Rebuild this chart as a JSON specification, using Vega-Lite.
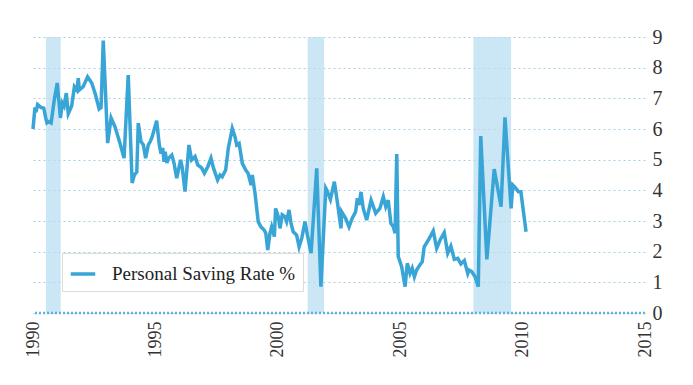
{
  "$schema": "https://vega.github.io/schema/vega-lite/v6.json",
  "width": 612,
  "height": 276,
  "autosize": {"type": "none"},
  "padding": {"left": 33, "top": 37, "right": 48, "bottom": 72},
  "background": "white",
  "config": {"view": {"stroke": null}, "font": "Liberation Serif"},
  "datasets": {
    "recessions": [
      {"start": 1990.53, "end": 1991.13},
      {"start": 2001.22, "end": 2001.89},
      {"start": 2007.99, "end": 2009.53}
    ],
    "saving": [
      {"year": 1990.0, "rate": 6.0},
      {"year": 1990.08, "rate": 6.7},
      {"year": 1990.12, "rate": 6.55},
      {"year": 1990.19, "rate": 6.8},
      {"year": 1990.33, "rate": 6.7},
      {"year": 1990.44, "rate": 6.68},
      {"year": 1990.52, "rate": 6.36},
      {"year": 1990.57, "rate": 6.2},
      {"year": 1990.65, "rate": 6.24},
      {"year": 1990.74, "rate": 6.2},
      {"year": 1990.87, "rate": 6.95},
      {"year": 1990.99, "rate": 7.5},
      {"year": 1991.12, "rate": 6.36},
      {"year": 1991.2, "rate": 6.85},
      {"year": 1991.27, "rate": 6.75},
      {"year": 1991.36, "rate": 7.17},
      {"year": 1991.44, "rate": 6.5},
      {"year": 1991.58, "rate": 6.75},
      {"year": 1991.69, "rate": 7.38},
      {"year": 1991.79, "rate": 7.27},
      {"year": 1991.85, "rate": 7.66},
      {"year": 1991.89, "rate": 7.27},
      {"year": 1992.05, "rate": 7.38},
      {"year": 1992.23, "rate": 7.7},
      {"year": 1992.4, "rate": 7.5},
      {"year": 1992.56, "rate": 7.1},
      {"year": 1992.7, "rate": 6.65},
      {"year": 1992.78, "rate": 6.7},
      {"year": 1992.87, "rate": 8.88},
      {"year": 1993.05, "rate": 5.54},
      {"year": 1993.19, "rate": 6.36},
      {"year": 1993.35, "rate": 6.07},
      {"year": 1993.55, "rate": 5.54},
      {"year": 1993.72, "rate": 5.05},
      {"year": 1993.89, "rate": 7.76},
      {"year": 1994.05, "rate": 4.24},
      {"year": 1994.14, "rate": 4.5},
      {"year": 1994.24, "rate": 4.6},
      {"year": 1994.3, "rate": 6.19},
      {"year": 1994.41, "rate": 5.59},
      {"year": 1994.51, "rate": 5.48},
      {"year": 1994.6, "rate": 5.05},
      {"year": 1994.71, "rate": 5.48},
      {"year": 1994.79, "rate": 5.59},
      {"year": 1994.87, "rate": 5.75},
      {"year": 1995.05, "rate": 6.27},
      {"year": 1995.16, "rate": 5.48},
      {"year": 1995.23, "rate": 5.2},
      {"year": 1995.3, "rate": 5.38},
      {"year": 1995.35, "rate": 4.93},
      {"year": 1995.4, "rate": 5.26},
      {"year": 1995.47, "rate": 4.89},
      {"year": 1995.54, "rate": 5.05},
      {"year": 1995.67, "rate": 5.15},
      {"year": 1995.76, "rate": 4.89},
      {"year": 1995.87, "rate": 4.4},
      {"year": 1996.03, "rate": 4.99},
      {"year": 1996.1, "rate": 4.73},
      {"year": 1996.21, "rate": 3.96},
      {"year": 1996.37, "rate": 5.48},
      {"year": 1996.48, "rate": 4.99},
      {"year": 1996.62, "rate": 5.1},
      {"year": 1996.73, "rate": 4.83},
      {"year": 1996.89, "rate": 4.73},
      {"year": 1997.0, "rate": 4.56},
      {"year": 1997.14, "rate": 4.77},
      {"year": 1997.27, "rate": 5.05},
      {"year": 1997.37, "rate": 4.73},
      {"year": 1997.54, "rate": 4.34},
      {"year": 1997.64, "rate": 4.5},
      {"year": 1997.73, "rate": 4.44},
      {"year": 1997.87, "rate": 4.66},
      {"year": 1997.98, "rate": 5.38},
      {"year": 1998.14, "rate": 6.02},
      {"year": 1998.25, "rate": 5.75},
      {"year": 1998.32, "rate": 5.48},
      {"year": 1998.42, "rate": 5.53},
      {"year": 1998.55, "rate": 4.88},
      {"year": 1998.69, "rate": 4.66},
      {"year": 1998.79, "rate": 4.55},
      {"year": 1998.91, "rate": 4.17},
      {"year": 1998.96, "rate": 4.5},
      {"year": 1999.07, "rate": 3.9},
      {"year": 1999.2, "rate": 2.98},
      {"year": 1999.31, "rate": 2.81},
      {"year": 1999.45, "rate": 2.7},
      {"year": 1999.51, "rate": 2.6},
      {"year": 1999.59, "rate": 2.05},
      {"year": 1999.68, "rate": 2.6},
      {"year": 1999.75, "rate": 2.81},
      {"year": 1999.86, "rate": 2.49},
      {"year": 1999.91, "rate": 3.41},
      {"year": 2000.02, "rate": 3.14},
      {"year": 2000.09, "rate": 2.76},
      {"year": 2000.18, "rate": 3.2},
      {"year": 2000.29, "rate": 3.14},
      {"year": 2000.36, "rate": 2.98},
      {"year": 2000.46, "rate": 3.36},
      {"year": 2000.54, "rate": 2.92},
      {"year": 2000.63, "rate": 2.65},
      {"year": 2000.77, "rate": 2.54},
      {"year": 2000.87, "rate": 2.16},
      {"year": 2000.98, "rate": 2.44},
      {"year": 2001.11, "rate": 2.98},
      {"year": 2001.21, "rate": 2.54},
      {"year": 2001.36, "rate": 1.95},
      {"year": 2001.59, "rate": 4.72},
      {"year": 2001.76, "rate": 0.86},
      {"year": 2001.96, "rate": 4.07},
      {"year": 2002.0, "rate": 4.01},
      {"year": 2002.15, "rate": 3.7},
      {"year": 2002.31, "rate": 4.28},
      {"year": 2002.45, "rate": 3.52},
      {"year": 2002.58, "rate": 2.76},
      {"year": 2002.61, "rate": 3.3},
      {"year": 2002.77, "rate": 3.09},
      {"year": 2002.91, "rate": 2.81},
      {"year": 2003.04, "rate": 3.09},
      {"year": 2003.18, "rate": 3.3},
      {"year": 2003.25, "rate": 3.74},
      {"year": 2003.32, "rate": 3.52},
      {"year": 2003.4, "rate": 3.95},
      {"year": 2003.49, "rate": 3.41},
      {"year": 2003.63, "rate": 3.03},
      {"year": 2003.81, "rate": 3.68},
      {"year": 2004.0, "rate": 3.25},
      {"year": 2004.17, "rate": 3.41},
      {"year": 2004.31, "rate": 3.79},
      {"year": 2004.41, "rate": 3.47},
      {"year": 2004.51, "rate": 3.68},
      {"year": 2004.62, "rate": 2.92},
      {"year": 2004.72, "rate": 2.81},
      {"year": 2004.79, "rate": 2.6},
      {"year": 2004.86, "rate": 5.18},
      {"year": 2004.92, "rate": 1.84},
      {"year": 2005.06, "rate": 1.51},
      {"year": 2005.2, "rate": 0.86},
      {"year": 2005.29, "rate": 1.62},
      {"year": 2005.4, "rate": 1.29},
      {"year": 2005.49, "rate": 1.46},
      {"year": 2005.58, "rate": 1.18},
      {"year": 2005.67, "rate": 1.4},
      {"year": 2005.81, "rate": 1.57},
      {"year": 2005.9, "rate": 1.67},
      {"year": 2005.98, "rate": 2.16},
      {"year": 2006.15, "rate": 2.38},
      {"year": 2006.35, "rate": 2.68},
      {"year": 2006.49, "rate": 2.11},
      {"year": 2006.63, "rate": 2.38},
      {"year": 2006.8, "rate": 2.62},
      {"year": 2006.94, "rate": 1.95},
      {"year": 2007.07, "rate": 2.18},
      {"year": 2007.21, "rate": 1.75},
      {"year": 2007.35, "rate": 1.78},
      {"year": 2007.48, "rate": 1.6},
      {"year": 2007.62, "rate": 1.71},
      {"year": 2007.76, "rate": 1.29},
      {"year": 2007.81, "rate": 1.4},
      {"year": 2007.92, "rate": 1.35},
      {"year": 2008.06, "rate": 1.18},
      {"year": 2008.19, "rate": 0.86},
      {"year": 2008.29, "rate": 5.77},
      {"year": 2008.54, "rate": 1.75},
      {"year": 2008.84, "rate": 4.69},
      {"year": 2009.12, "rate": 3.47},
      {"year": 2009.28, "rate": 6.38},
      {"year": 2009.53, "rate": 3.41},
      {"year": 2009.6, "rate": 4.17},
      {"year": 2009.72, "rate": 4.07},
      {"year": 2009.83, "rate": 3.95},
      {"year": 2009.93, "rate": 3.95},
      {"year": 2010.14, "rate": 2.65}
    ]
  },
  "layer": [
    {
      "data": {"name": "recessions"},
      "mark": {"type": "rect", "color": "#b9def0", "opacity": 0.75},
      "encoding": {
        "x": {
          "field": "start", "type": "quantitative",
          "scale": {"domain": [1990, 2015], "nice": false, "zero": false},
          "axis": {
            "title": null,
            "values": [1990, 1995, 2000, 2005, 2010, 2015],
            "format": "d", "labelAngle": -90, "labelFlush": false, "labelOverlap": false,
            "grid": false, "domain": false, "ticks": false,
            "labelFontSize": 18, "labelColor": "#333", "labelPadding": 8,
            "labelFont": "Liberation Serif"
          }
        },
        "x2": {"field": "end"},
        "y": {
          "datum": 9, "type": "quantitative",
          "scale": {"domain": [0, 9], "nice": false},
          "axis": {
            "title": null, "orient": "right",
            "values": [0, 1, 2, 3, 4, 5, 6, 7, 8, 9],
            "grid": true, "gridColor": "#a9d0e2", "gridDash": [2, 3], "gridWidth": 1,
            "domain": false, "ticks": false, "labelOverlap": false,
            "labelFontSize": 20, "labelColor": "#333", "labelPadding": 7,
            "labelFont": "Liberation Serif"
          }
        },
        "y2": {"datum": 0}
      }
    },
    {
      "data": {"values": [{}]},
      "mark": {"type": "rule", "color": "#5fb4dc", "strokeWidth": 2.5, "strokeDash": [2, 2]},
      "encoding": {
        "y": {
          "datum": 0, "type": "quantitative",
          "axis": {
            "title": null, "orient": "right",
            "values": [0, 1, 2, 3, 4, 5, 6, 7, 8, 9],
            "grid": true, "gridColor": "#a9d0e2", "gridDash": [2, 3], "gridWidth": 1,
            "domain": false, "ticks": false, "labelOverlap": false,
            "labelFontSize": 20, "labelColor": "#333", "labelPadding": 7,
            "labelFont": "Liberation Serif"
          }
        }
      }
    },
    {
      "data": {"name": "saving"},
      "mark": {"type": "line", "strokeWidth": 3.5, "interpolate": "linear"},
      "encoding": {
        "x": {
          "field": "year", "type": "quantitative",
          "axis": {
            "title": null,
            "values": [1990, 1995, 2000, 2005, 2010, 2015],
            "format": "d", "labelAngle": -90, "labelFlush": false, "labelOverlap": false,
            "grid": false, "domain": false, "ticks": false,
            "labelFontSize": 18, "labelColor": "#333", "labelPadding": 8,
            "labelFont": "Liberation Serif"
          }
        },
        "y": {
          "field": "rate", "type": "quantitative",
          "axis": {
            "title": null, "orient": "right",
            "values": [0, 1, 2, 3, 4, 5, 6, 7, 8, 9],
            "grid": true, "gridColor": "#a9d0e2", "gridDash": [2, 3], "gridWidth": 1,
            "domain": false, "ticks": false, "labelOverlap": false,
            "labelFontSize": 20, "labelColor": "#333", "labelPadding": 7,
            "labelFont": "Liberation Serif"
          }
        },
        "color": {
          "datum": "Personal Saving Rate %",
          "scale": {"range": ["#38a5d6"]},
          "legend": {
            "title": null, "orient": "none", "legendX": 29, "legendY": 216,
            "fillColor": "white", "strokeColor": "#dcdcdc", "padding": 7,
            "symbolType": "stroke", "symbolStrokeWidth": 3.5, "symbolSize": 600,
            "labelFontSize": 19, "labelFont": "Liberation Serif", "labelColor": "#222",
            "labelOffset": 15, "labelLimit": 400
          }
        }
      }
    }
  ]
}
